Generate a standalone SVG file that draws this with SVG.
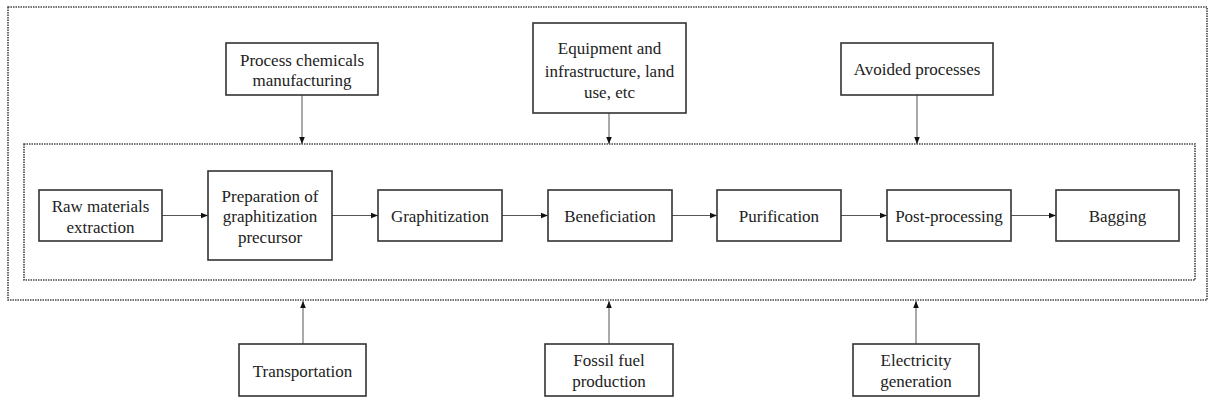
<svg xmlns="http://www.w3.org/2000/svg" width="1210" height="412" viewBox="0 0 1210 412">
<style>
.box{fill:#fff;stroke:#333;stroke-width:1.6}
.frame{fill:none;stroke:#444;stroke-width:1.6;stroke-dasharray:1.5 1}
.t{font-family:'Liberation Serif','Times New Roman','DejaVu Serif',serif;font-size:17px;fill:#222;text-anchor:middle}
.c{stroke:#555;stroke-width:1;fill:none;marker-end:url(#ah)}
</style>
<defs>
<marker id="ah" viewBox="0 0 10 10" refX="10" refY="5" markerWidth="7" markerHeight="7" markerUnits="userSpaceOnUse" orient="auto">
<path d="M0,1 L10,5 L0,9 z" fill="#111"/>
</marker>
</defs>
<rect width="1210" height="412" fill="#fff"/>
<g id="frames">
<rect class="frame" x="8" y="7" width="1199" height="293"/>
<rect class="frame" x="24" y="144" width="1171" height="136"/>
</g>
<g id="connectors">
<line class="c" x1="302" y1="95" x2="302" y2="144"/>
<line class="c" x1="609" y1="113" x2="609" y2="144"/>
<line class="c" x1="917" y1="95" x2="917" y2="144"/>
<line class="c" x1="162" y1="215.5" x2="208" y2="215.5"/>
<line class="c" x1="332" y1="215.5" x2="378" y2="215.5"/>
<line class="c" x1="502" y1="215.5" x2="548" y2="215.5"/>
<line class="c" x1="672" y1="215.5" x2="717" y2="215.5"/>
<line class="c" x1="841" y1="215.5" x2="887" y2="215.5"/>
<line class="c" x1="1011" y1="215.5" x2="1056" y2="215.5"/>
<line class="c" x1="303" y1="344" x2="303" y2="301"/>
<line class="c" x1="609" y1="344" x2="609" y2="301"/>
<line class="c" x1="916" y1="344" x2="916" y2="301"/>
</g>
<g id="process-chemicals">
<rect class="box" x="226" y="43" width="152" height="52"/>
<text class="t" font-family="Liberation Serif, serif" x="302" y="66">Process chemicals</text>
<text class="t" font-family="Liberation Serif, serif" x="302" y="86">manufacturing</text>
</g>
<g id="equipment">
<rect class="box" x="533" y="23" width="153" height="90"/>
<text class="t" x="609.5" y="54">Equipment and</text>
<text class="t" x="609.5" y="77">infrastructure, land</text>
<text class="t" x="609.5" y="98">use, etc</text>
</g>
<g id="avoided">
<rect class="box" x="841" y="43" width="152" height="52"/>
<text class="t" x="917" y="75">Avoided processes</text>
</g>
<g id="raw">
<rect class="box" x="39" y="190" width="123" height="51"/>
<text class="t" x="100.5" y="212">Raw materials</text>
<text class="t" x="100.5" y="233">extraction</text>
</g>
<g id="preparation">
<rect class="box" x="208" y="171" width="124" height="89"/>
<text class="t" x="270" y="202">Preparation of</text>
<text class="t" x="270" y="222">graphitization</text>
<text class="t" x="270" y="243">precursor</text>
</g>
<g id="graphitization">
<rect class="box" x="378" y="190" width="124" height="51"/>
<text class="t" x="440" y="222">Graphitization</text>
</g>
<g id="beneficiation">
<rect class="box" x="548" y="190" width="124" height="51"/>
<text class="t" x="610" y="222">Beneficiation</text>
</g>
<g id="purification">
<rect class="box" x="717" y="190" width="124" height="51"/>
<text class="t" x="779" y="222">Purification</text>
</g>
<g id="post-processing">
<rect class="box" x="887" y="190" width="124" height="51"/>
<text class="t" x="949" y="222">Post-processing</text>
</g>
<g id="bagging">
<rect class="box" x="1056" y="190" width="123" height="51"/>
<text class="t" x="1117.5" y="222">Bagging</text>
</g>
<g id="transportation">
<rect class="box" x="239" y="344" width="127" height="52"/>
<text class="t" x="302.5" y="377">Transportation</text>
</g>
<g id="fossil">
<rect class="box" x="545" y="344" width="128" height="52"/>
<text class="t" x="609" y="366">Fossil fuel</text>
<text class="t" x="609" y="387">production</text>
</g>
<g id="electricity">
<rect class="box" x="853" y="344" width="126" height="52"/>
<text class="t" x="916" y="366">Electricity</text>
<text class="t" x="916" y="387">generation</text>
</g>
</svg>
